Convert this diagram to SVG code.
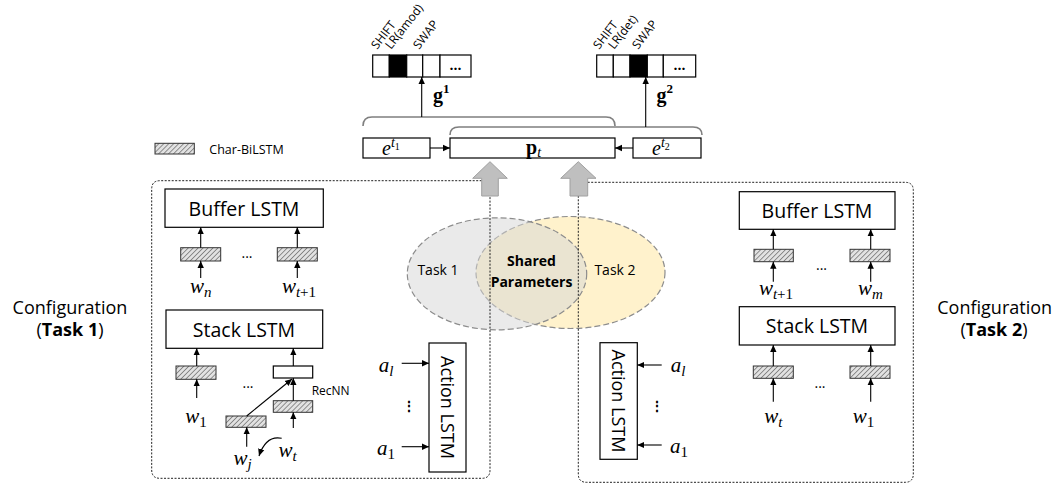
<svg xmlns="http://www.w3.org/2000/svg" width="1064" height="486" viewBox="0 0 1064 486">
<defs>
<pattern id="hatch" patternUnits="userSpaceOnUse" width="3.5" height="3.5" patternTransform="rotate(45)">
<rect width="3.5" height="3.5" fill="#e2e2e2"/>
<line x1="0" y1="0" x2="0" y2="3.5" stroke="#555" stroke-width="1.2"/>
</pattern>
<marker id="ah" markerWidth="8" markerHeight="8" refX="7" refY="4" orient="auto" markerUnits="userSpaceOnUse">
<path d="M0,0.8 L7,4 L0,7.2 Z" fill="#000"/>
</marker>
</defs>
<style>
.t{font-family:"Open Sans","Liberation Sans",sans-serif;fill:#000}
.m{font-family:"Liberation Serif","DejaVu Serif",serif;font-style:italic;fill:#000}
.mb{font-family:"Liberation Serif","DejaVu Serif",serif;font-weight:bold;fill:#000}
.box{fill:#fff;stroke:#000;stroke-width:1.2}
.hb{fill:url(#hatch);stroke:#333;stroke-width:1}
.cn{stroke:#000;stroke-width:1.1;fill:none}
.dot{fill:none;stroke:#222;stroke-width:1;stroke-dasharray:2 1.5}
.ell{stroke:#8c8c8c;stroke-width:1.2;stroke-dasharray:6 3}
.brk{fill:none;stroke:#7f7f7f;stroke-width:1.6}
.blk{fill:#bfbfbf;stroke:#a0a0a0;stroke-width:1}
.cell{fill:#fff;stroke:#000;stroke-width:1.2}
.lab{font-family:"Open Sans","Liberation Sans",sans-serif;font-size:12px;fill:#000}
</style>

<!-- Venn -->
<g id="venn">
<ellipse cx="570.5" cy="272.5" rx="94.5" ry="56" fill="#fff2cc" class="ell"/>
<ellipse cx="497" cy="273.8" rx="89.7" ry="56" fill="#d6d6d6" fill-opacity="0.5" class="ell"/>
<text class="t" x="438" y="275" font-size="14" text-anchor="middle">Task 1</text>
<text class="t" x="615" y="275" font-size="14" text-anchor="middle">Task 2</text>
<text class="t" x="531.5" y="265.5" font-size="14" font-weight="bold" text-anchor="middle">Shared</text>
<text class="t" x="531.5" y="286.5" font-size="14" font-weight="bold" text-anchor="middle">Parameters</text>
</g>

<!-- configuration boxes -->
<g id="config1">
<path class="dot" d="M481.7,180.7 L160,180.7 Q151.7,180.7 151.7,189 L151.7,470 Q151.7,478.3 160,478.3 L482,478.3 Q490,478.3 490,470 L490,196"/>
</g>
<g id="config2">
<path class="dot" d="M587.7,182.3 L905,182.3 Q913.3,182.3 913.3,190.5 L913.3,474 Q913.3,482.3 905,482.3 L586.5,482.3 Q578.3,482.3 578.3,474 L578.3,196"/>
</g>

<g id="blockarrows">
<polygon class="blk" points="490,161.7 507.3,178.3 498.3,178.3 498.3,196 481.7,196 481.7,178.3 472.7,178.3"/>
<polygon class="blk" points="578.3,161.7 596,178.3 587.7,178.3 587.7,196 570,196 570,178.3 560.7,178.3"/>
</g>

<!-- legend -->
<g id="legend">
<rect class="hb" x="155" y="143.3" width="39.3" height="10.7"/>
<text class="t" x="209.3" y="154" font-size="12.5">Char-BiLSTM</text>
</g>

<!-- top -->
<g id="et1">
<rect class="box" x="363" y="138" width="67" height="20"/>
<text class="m" x="382" y="155" font-size="20">e<tspan font-size="14" dy="-8">t</tspan><tspan font-size="10" dy="3" font-style="normal">1</tspan></text>
</g>
<g id="pt">
<rect class="box" x="450" y="138" width="165" height="20"/>
<text class="mb" x="526" y="153.5" font-size="20">p<tspan class="m" font-weight="normal" font-size="14" dy="3">t</tspan></text>
</g>
<g id="et2">
<rect class="box" x="633" y="138" width="68" height="20"/>
<text class="m" x="652" y="155" font-size="20">e<tspan font-size="14" dy="-8">t</tspan><tspan font-size="10" dy="3" font-style="normal">2</tspan></text>
</g>

<g id="brackets">
<path class="brk" d="M363,126 Q363,117 372,117 L606,117 Q615,117 615,126"/>
<path class="brk" d="M450,135 Q450,127 459,127 L693,127 Q702,127 702,135"/>
</g>

<g id="out1">
<rect class="cell" x="372.7" y="55" width="16.6" height="22"/>
<rect x="389.3" y="55" width="17.4" height="22" fill="#000" stroke="#000" stroke-width="1.2"/>
<rect class="cell" x="406.7" y="55" width="16" height="22"/>
<rect class="cell" x="422.7" y="55" width="17.3" height="22"/>
<rect class="cell" x="440" y="55" width="31" height="22"/>
<text class="t" x="455.5" y="70" font-size="14" font-weight="bold" text-anchor="middle">...</text>
<text class="lab" transform="translate(377,50) rotate(-52)">SHIFT</text>
<text class="lab" transform="translate(391,50) rotate(-52)">LR(amod)</text>
<text class="lab" transform="translate(419,50) rotate(-52)">SWAP</text>
<text class="mb" x="433" y="102" font-size="20">g<tspan font-size="13" dy="-9">1</tspan></text>
</g>
<g id="out2">
<rect class="cell" x="596.7" y="55" width="16.6" height="22"/>
<rect class="cell" x="613.3" y="55" width="16.7" height="22"/>
<rect x="630" y="55" width="17.3" height="22" fill="#000" stroke="#000" stroke-width="1.2"/>
<rect class="cell" x="647.3" y="55" width="16" height="22"/>
<rect class="cell" x="663.3" y="55" width="32.4" height="22"/>
<text class="t" x="679.5" y="70" font-size="14" font-weight="bold" text-anchor="middle">...</text>
<text class="lab" transform="translate(599,50) rotate(-52)">SHIFT</text>
<text class="lab" transform="translate(614,50) rotate(-52)">LR(det)</text>
<text class="lab" transform="translate(638,50) rotate(-52)">SWAP</text>
<text class="mb" x="656.5" y="102" font-size="20">g<tspan font-size="13" dy="-9">2</tspan></text>
</g>

<!-- left configuration internals -->
<g id="buffer1">
<rect class="box" x="165" y="189" width="158.3" height="38.3"/>
<text class="t" x="244" y="215.5" font-size="19.5" text-anchor="middle">Buffer LSTM</text>
<rect class="hb" x="180.7" y="247.7" width="40" height="13.3"/>
<rect class="hb" x="277.3" y="247.7" width="40" height="13.3"/>
<text class="t" x="247" y="258" font-size="14" text-anchor="middle">...</text>
<text class="m" x="200.7" y="293" font-size="21" text-anchor="middle">w<tspan font-size="15" dy="4">n</tspan></text>
<text class="m" x="299" y="293" font-size="21" text-anchor="middle">w<tspan font-size="15" dy="4">t</tspan><tspan font-size="15" font-style="normal">+1</tspan></text>
</g>
<g id="stack1">
<rect class="box" x="166" y="310" width="156.7" height="38.3"/>
<text class="t" x="244" y="336.5" font-size="19.5" text-anchor="middle">Stack LSTM</text>
<rect class="hb" x="176" y="366" width="40" height="13.3"/>
<rect class="box" x="273.3" y="366" width="39.4" height="12"/>
<rect class="hb" x="273.3" y="400.7" width="39.4" height="11.6"/>
<rect class="hb" x="226" y="416" width="40" height="11.3"/>
<text class="t" x="248" y="388" font-size="14" text-anchor="middle">...</text>
<text class="t" x="311.7" y="395" font-size="12">RecNN</text>
<text class="m" x="196" y="423.3" font-size="21" text-anchor="middle">w<tspan font-size="15" dy="4" font-style="normal">1</tspan></text>
<text class="m" x="287.5" y="456.7" font-size="21" text-anchor="middle">w<tspan font-size="15" dy="4">t</tspan></text>
<text class="m" x="242.5" y="465" font-size="21" text-anchor="middle">w<tspan font-size="15" dy="4">j</tspan></text>
</g>
<g id="action1">
<rect class="box" x="429" y="343" width="37" height="129"/>
<text class="t" transform="translate(447.5,407.5) rotate(90)" font-size="18" text-anchor="middle" dominant-baseline="central">Action LSTM</text>
<text class="m" x="386" y="371.7" font-size="21" text-anchor="middle">a<tspan font-size="15" dy="4">l</tspan></text>
<text class="m" x="386" y="455" font-size="21" text-anchor="middle">a<tspan font-size="15" dy="4" font-style="normal">1</tspan></text>
<text class="t" x="409" y="411" font-size="14" font-weight="bold" text-anchor="middle">⋮</text>
</g>

<!-- right configuration internals -->
<g id="buffer2">
<rect class="box" x="739.3" y="191.7" width="155.7" height="37.6"/>
<text class="t" x="817" y="217.5" font-size="19.5" text-anchor="middle">Buffer LSTM</text>
<rect class="hb" x="754" y="249.3" width="39.3" height="12.4"/>
<rect class="hb" x="850" y="249.3" width="40" height="12.4"/>
<text class="t" x="821.5" y="270" font-size="14" text-anchor="middle">...</text>
<text class="m" x="776" y="295" font-size="21" text-anchor="middle">w<tspan font-size="15" dy="4">t</tspan><tspan font-size="15" font-style="normal">+1</tspan></text>
<text class="m" x="870.5" y="295" font-size="21" text-anchor="middle">w<tspan font-size="15" dy="4">m</tspan></text>
</g>
<g id="stack2">
<rect class="box" x="739.3" y="306.7" width="155.7" height="38.3"/>
<text class="t" x="817" y="333" font-size="19.5" text-anchor="middle">Stack LSTM</text>
<rect class="hb" x="753.3" y="366" width="40" height="12.3"/>
<rect class="hb" x="850" y="366" width="40" height="12.3"/>
<text class="t" x="820" y="388" font-size="14" text-anchor="middle">...</text>
<text class="m" x="773.3" y="423.3" font-size="21" text-anchor="middle">w<tspan font-size="15" dy="4">t</tspan></text>
<text class="m" x="863.5" y="423.3" font-size="21" text-anchor="middle">w<tspan font-size="15" dy="4" font-style="normal">1</tspan></text>
</g>
<g id="action2">
<rect class="box" x="600" y="342.7" width="37.3" height="116.6"/>
<text class="t" transform="translate(618.7,401) rotate(90)" font-size="18" text-anchor="middle" dominant-baseline="central">Action LSTM</text>
<text class="m" x="678" y="371.7" font-size="21" text-anchor="middle">a<tspan font-size="15" dy="4">l</tspan></text>
<text class="m" x="679" y="453.3" font-size="21" text-anchor="middle">a<tspan font-size="15" dy="4" font-style="normal">1</tspan></text>
<text class="t" x="656.7" y="411" font-size="14" font-weight="bold" text-anchor="middle">⋮</text>
</g>

<!-- side labels -->
<g id="label1">
<text class="t" x="70" y="314" font-size="18" text-anchor="middle">Configuration</text>
<text class="t" x="70" y="336" font-size="18" text-anchor="middle">(<tspan font-weight="bold">Task 1</tspan>)</text>
</g>
<g id="label2">
<text class="t" x="994.7" y="314" font-size="18" text-anchor="middle">Configuration</text>
<text class="t" x="994" y="336" font-size="18" text-anchor="middle">(<tspan font-weight="bold">Task 2</tspan>)</text>
</g>

<!-- connectors -->
<g id="connectors">
<line class="cn" x1="430" y1="148" x2="450" y2="148" marker-end="url(#ah)"/>
<line class="cn" x1="633" y1="148" x2="615" y2="148" marker-end="url(#ah)"/>
<line class="cn" x1="421.7" y1="117" x2="421.7" y2="77" marker-end="url(#ah)"/>
<line class="cn" x1="645.7" y1="127" x2="645.7" y2="77" marker-end="url(#ah)"/>
<line class="cn" x1="200.7" y1="247.7" x2="200.7" y2="227.3" marker-end="url(#ah)"/>
<line class="cn" x1="297.3" y1="247.7" x2="297.3" y2="227.3" marker-end="url(#ah)"/>
<line class="cn" x1="200.7" y1="278" x2="200.7" y2="261" marker-end="url(#ah)"/>
<line class="cn" x1="297.3" y1="278" x2="297.3" y2="261" marker-end="url(#ah)"/>
<line class="cn" x1="196.7" y1="366" x2="196.7" y2="348.3" marker-end="url(#ah)"/>
<line class="cn" x1="196.7" y1="398" x2="196.7" y2="379.3" marker-end="url(#ah)"/>
<line class="cn" x1="293.3" y1="366" x2="293.3" y2="348.3" marker-end="url(#ah)"/>
<line class="cn" x1="293.3" y1="400.7" x2="293.3" y2="378" marker-end="url(#ah)"/>
<line class="cn" x1="293.3" y1="428" x2="293.3" y2="412.3" marker-end="url(#ah)"/>
<line class="cn" x1="246.7" y1="416" x2="292" y2="379" marker-end="url(#ah)"/>
<line class="cn" x1="246.7" y1="446.7" x2="246.7" y2="427.3" marker-end="url(#ah)"/>
<path class="cn" d="M281.7,438.3 Q266,435 259,456" marker-end="url(#ah)"/>
<line class="cn" x1="401.7" y1="363.3" x2="429" y2="363.3" marker-end="url(#ah)"/>
<line class="cn" x1="401.7" y1="446.7" x2="429" y2="446.7" marker-end="url(#ah)"/>
<line class="cn" x1="773.3" y1="249.3" x2="773.3" y2="229.3" marker-end="url(#ah)"/>
<line class="cn" x1="870.7" y1="249.3" x2="870.7" y2="229.3" marker-end="url(#ah)"/>
<line class="cn" x1="773.3" y1="281.7" x2="773.3" y2="261.7" marker-end="url(#ah)"/>
<line class="cn" x1="870.7" y1="281.7" x2="870.7" y2="261.7" marker-end="url(#ah)"/>
<line class="cn" x1="773.3" y1="366" x2="773.3" y2="345" marker-end="url(#ah)"/>
<line class="cn" x1="870.7" y1="366" x2="870.7" y2="345" marker-end="url(#ah)"/>
<line class="cn" x1="773.3" y1="401.7" x2="773.3" y2="378.3" marker-end="url(#ah)"/>
<line class="cn" x1="870.7" y1="401.7" x2="870.7" y2="378.3" marker-end="url(#ah)"/>
<line class="cn" x1="661.7" y1="365" x2="637.3" y2="365" marker-end="url(#ah)"/>
<line class="cn" x1="661.7" y1="445" x2="637.3" y2="445" marker-end="url(#ah)"/>
</g>
</svg>
